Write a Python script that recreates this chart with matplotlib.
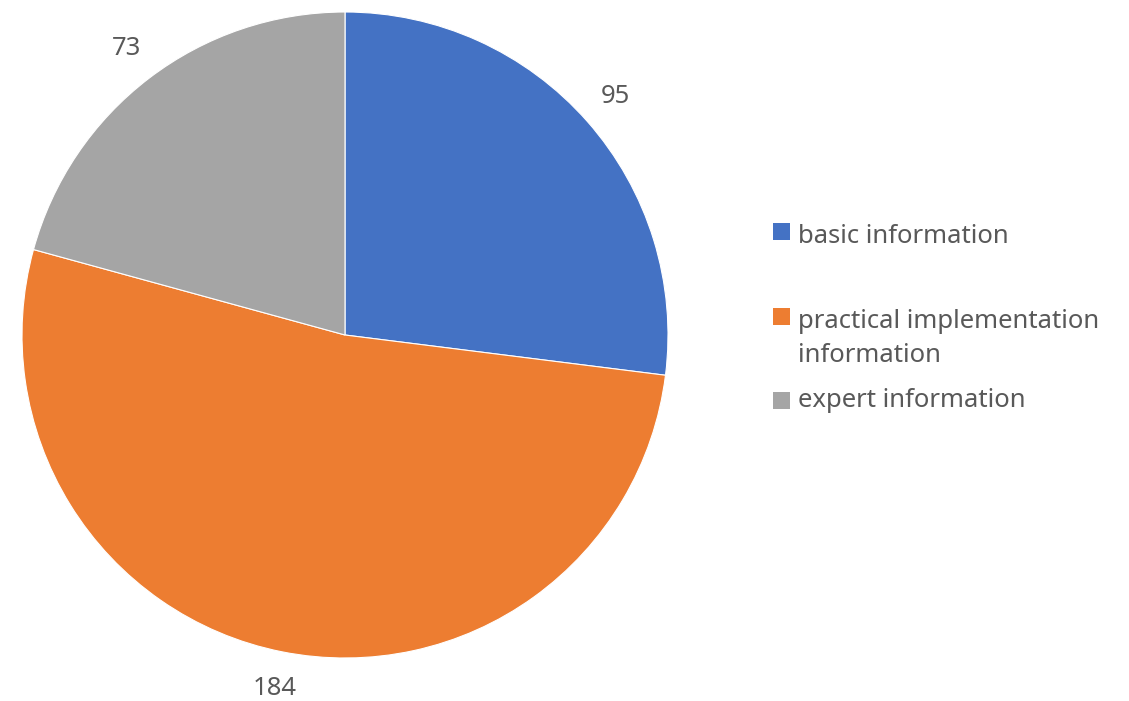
import matplotlib
matplotlib.use('Agg')
import matplotlib.pyplot as plt
from matplotlib.patches import Rectangle

plt.rcParams['font.family'] = ['Noto Sans', 'DejaVu Sans']

# data
categories = ['basic information', 'practical implementation\ninformation', 'expert information']
values = [95, 184, 73]
colors = ['#4472C4', '#ED7D31', '#A5A5A5']

W, H = 1129, 701
fig = plt.figure(figsize=(W / 100, H / 100), dpi=100)

# pie centred at (345, 335) px, radius ~323 px
cx, cy, r = 345, 335, 323
ax = fig.add_axes([(cx - r) / W, (H - cy - r) / H, 2 * r / W, 2 * r / H])
total = sum(values)
ax.pie(values, colors=colors, startangle=90, counterclock=False,
       autopct=lambda p: f'{p * total / 100:.0f}', pctdistance=1.115,
       wedgeprops=dict(edgecolor='white', linewidth=0.8),
       textprops=dict(fontsize=18.5, color='#595959'))
ax.set_xlim(-1, 1)
ax.set_ylim(-1, 1)
ax.axis('off')

# legend drawn by hand (Excel style)
text_col = '#595959'
box_y = [223, 308, 392]      # top of the colour squares
base_y = [243, 328, 407]     # baseline of first text line
line_gap = 34
for lab, col, by, ty in zip(categories, colors, box_y, base_y):
    fig.patches.append(Rectangle((773 / W, 1 - (by + 17) / H), 17 / W, 17 / H,
                                 transform=fig.transFigure, facecolor=col,
                                 edgecolor='none'))
    for k, line in enumerate(lab.split('\n')):
        fig.text(798 / W, 1 - (ty + k * line_gap) / H, line, fontsize=18.5,
                 color=text_col, va='baseline', ha='left')

fig.savefig('out.png', dpi=100, facecolor='white')
